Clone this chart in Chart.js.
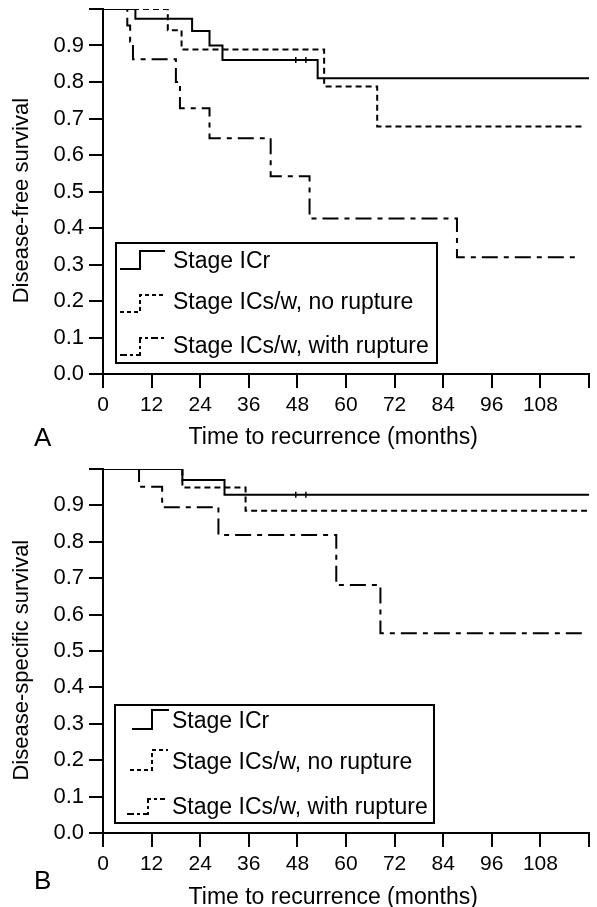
<!DOCTYPE html>
<html>
<head>
<meta charset="utf-8">
<script src="https://cdn.jsdelivr.net/npm/chart.js@4.4.1/dist/chart.umd.min.js"></script>
<style>
  html, body { margin: 0; padding: 0; background: #fff; }
  body { width: 597px; height: 907px; overflow: hidden; position: relative; font-family: "Liberation Sans", Arial, sans-serif; }
  .panel { position: absolute; left: 0; width: 597px; height: 453px; }
  .tag { position: absolute; font-size: 26px; line-height: 30px; color: #000; }
</style>
</head>
<body>
<div class="panel" style="top:0"><canvas id="chartA" width="597" height="453"></canvas></div>
<div class="panel" style="top:460px"><canvas id="chartB" width="597" height="453"></canvas></div>
<div class="tag" style="left:34px; top:422px">A</div>
<div class="tag" style="left:34px; top:865px">B</div>
<script>
// Shared labels and ticks
const seriesNames = ['Stage ICr', 'Stage ICs/w, no rupture', 'Stage ICs/w, with rupture'];
const monthTicks = [0, 12, 24, 36, 48, 60, 72, 84, 96, 108, 120];
const survTicks = [0, 0.1, 0.2, 0.3, 0.4, 0.5, 0.6, 0.7, 0.8, 0.9, 1.0];

// Panel A - disease-free survival (months, survival after each drop)
const dfsCrTime = [0, 8, 22, 26.3, 29.5, 53, 120];
const dfsCrSurv = [1, 0.973, 0.94, 0.90, 0.86, 0.81, 0.81];
const dfsCrCensor = [47.6, 50.1];
const dfsNoTime = [0, 16, 19.4, 54.6, 67.7, 119];
const dfsNoSurv = [1, 0.942, 0.889, 0.788, 0.678, 0.678];
const dfsRupTime = [0, 6, 6.7, 7.4, 18, 19, 26.3, 41.4, 51, 87.4, 117.6];
const dfsRupSurv = [1, 0.955, 0.91, 0.862, 0.80, 0.728, 0.646, 0.542, 0.426, 0.32, 0.32];

// Panel B - disease-specific survival
const dssCrTime = [0, 19.6, 30, 120];
const dssCrSurv = [1, 0.97, 0.929, 0.929];
const dssCrCensor = [47.6, 50.1];
const dssNoTime = [0, 19.6, 35.2, 119.5];
const dssNoSurv = [1, 0.949, 0.885, 0.885];
const dssRupTime = [0, 8.9, 14.6, 28.5, 57.6, 68.5, 119.6];
const dssRupSurv = [1, 0.951, 0.895, 0.819, 0.681, 0.549, 0.549];

const lineStyles = [
    { dash: [], legendDash: [], width: 2 },
    { dash: [6, 4], legendDash: [4, 3], width: 2 },
    { dash: [16, 6, 5, 6], legendDash: [7, 3, 3, 3], width: 2 }
];
const fontFamily = '"Liberation Sans", Arial, sans-serif';

function toPoints(times, surv) {
    return times.map((t, i) => ({ x: t, y: surv[i] }));
}

// Draws the boxed legend with little step samples
const stepLegend = {
    id: 'stepLegend',
    afterDraw(chart, args, opts) {
        const ctx = chart.ctx;
        const b = opts.box;
        ctx.save();
        ctx.fillStyle = '#fff';
        ctx.fillRect(b.x, b.y, b.w, b.h);
        ctx.strokeStyle = '#000';
        ctx.lineWidth = 2;
        ctx.setLineDash([]);
        ctx.strokeRect(b.x, b.y, b.w, b.h);
        ctx.font = '23px ' + fontFamily;
        ctx.fillStyle = '#000';
        ctx.textBaseline = 'middle';
        seriesNames.forEach((name, i) => {
            const r = opts.rows[i];
            ctx.setLineDash(lineStyles[i].legendDash);
            ctx.lineWidth = lineStyles[i].width;
            ctx.beginPath();
            ctx.moveTo(r.x0, r.lo);
            ctx.lineTo(r.x1, r.lo);
            ctx.lineTo(r.x1, r.hi);
            ctx.lineTo(r.x2, r.hi);
            ctx.stroke();
            ctx.setLineDash([]);
            ctx.fillText(name, opts.textX, r.ty);
        });
        ctx.restore();
    }
};

function makeChart(id, curves, censor, yTitle, xAxisHeight, legendLayout) {
    const datasets = curves.map((c, i) => ({
        label: seriesNames[i],
        data: toPoints(c[0], c[1]),
        stepped: 'before',
        borderColor: '#000',
        borderWidth: lineStyles[i].width,
        borderDash: lineStyles[i].dash,
        pointRadius: 0,
        fill: false
    }));
    datasets.push({
        label: 'censored',
        data: censor.pts,
        showLine: false,
        pointStyle: 'line',
        rotation: 90,
        pointRadius: 3,
        borderWidth: 1.5,
        borderColor: '#000'
    });

    return new Chart(document.getElementById(id), {
        type: 'line',
        data: { datasets: datasets },
        options: {
            responsive: false,
            animation: false,
            layout: { padding: { top: 9, right: 8, bottom: 0, left: 0 } },
            plugins: {
                legend: { display: false },
                tooltip: { enabled: false },
                stepLegend: legendLayout
            },
            scales: {
                x: {
                    type: 'linear',
                    min: 0,
                    max: 120,
                    afterBuildTicks(scale) { scale.ticks = monthTicks.map(v => ({ value: v })); },
                    afterFit(scale) {
                        scale.height = xAxisHeight;
                        scale.paddingLeft = 0;
                        scale.paddingRight = 0;
                    },
                    ticks: {
                        autoSkip: false,
                        maxRotation: 0,
                        padding: 5,
                        color: '#000',
                        font: { family: fontFamily, size: 21 },
                        callback: v => v === 120 ? '' : String(v)
                    },
                    grid: { drawOnChartArea: false, drawTicks: true, tickLength: 14, color: '#000', lineWidth: 2 },
                    border: { display: true, color: '#000', width: 2 },
                    title: {
                        display: true,
                        // trailing spaces nudge the centred title a little to the left
                        text: 'Time to recurrence (months)    ',
                        color: '#000',
                        font: { family: fontFamily, size: 23 },
                        padding: { top: 0, bottom: 2 }
                    }
                },
                y: {
                    min: 0,
                    max: 1,
                    afterBuildTicks(scale) { scale.ticks = survTicks.map(v => ({ value: v })); },
                    afterFit(scale) {
                        scale.width = 103;
                        scale.paddingTop = 0;
                        scale.paddingBottom = 0;
                    },
                    ticks: {
                        padding: 5,
                        color: '#000',
                        font: { family: fontFamily, size: 22 },
                        callback: v => v >= 0.999 ? '' : v.toFixed(1)
                    },
                    grid: { drawOnChartArea: false, drawTicks: true, tickLength: 14, color: '#000', lineWidth: 2 },
                    border: { display: true, color: '#000', width: 2 },
                    title: {
                        display: true,
                        text: yTitle + '   ',
                        color: '#000',
                        font: { family: fontFamily, size: 22 },
                        padding: { top: 9, bottom: 0 }
                    }
                }
            }
        },
        plugins: [stepLegend]
    });
}

makeChart('chartA',
    [[dfsCrTime, dfsCrSurv], [dfsNoTime, dfsNoSurv], [dfsRupTime, dfsRupSurv]],
    { pts: dfsCrCensor.map(t => ({ x: t, y: 0.86 })) },
    'Disease-free survival', 79,
    {
        box: { x: 116, y: 243, w: 321, h: 120 },
        textX: 173,
        rows: [
            { x0: 120, x1: 140, x2: 165, lo: 269, hi: 251, ty: 262 },
            { x0: 120, x1: 140, x2: 165, lo: 312, hi: 295, ty: 303 },
            { x0: 120, x1: 140, x2: 165, lo: 355, hi: 338, ty: 347 }
        ]
    });

makeChart('chartB',
    [[dssCrTime, dssCrSurv], [dssNoTime, dssNoSurv], [dssRupTime, dssRupSurv]],
    { pts: dssCrCensor.map(t => ({ x: t, y: 0.929 })) },
    'Disease-specific survival', 80,
    {
        box: { x: 115, y: 245, w: 319, h: 118 },
        textX: 172,
        rows: [
            { x0: 132, x1: 152, x2: 169, lo: 269, hi: 250, ty: 262 },
            { x0: 130, x1: 152, x2: 168, lo: 310, hi: 290, ty: 303 },
            { x0: 127, x1: 148, x2: 165, lo: 354, hi: 339, ty: 348 }
        ]
    });
</script>
</body>
</html>
